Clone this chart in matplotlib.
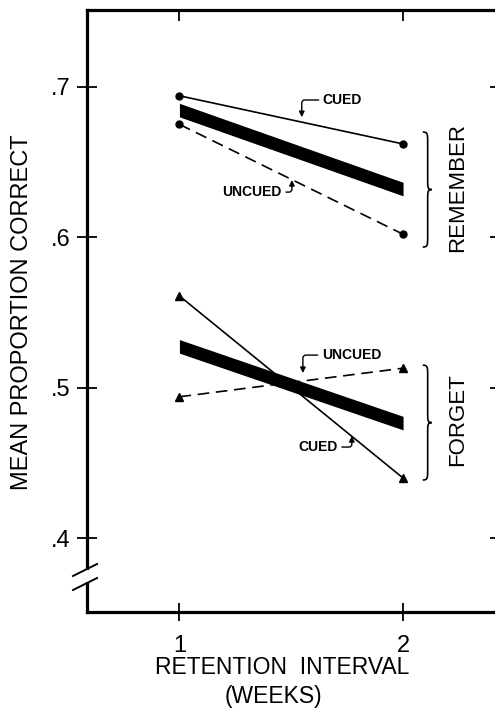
import matplotlib
matplotlib.use("Agg")
import matplotlib.pyplot as plt
import numpy as np
from matplotlib.path import Path
from matplotlib.patches import PathPatch

plt.rcParams['font.family'] = ['Liberation Sans', 'DejaVu Sans']

# ---- data ----
weeks = [1, 2]
remember_cued = [0.694, 0.662]
remember_uncued = [0.675, 0.602]
forget_cued = [0.561, 0.440]
forget_uncued = [0.494, 0.513]
yticks = [0.4, 0.5, 0.6, 0.7]
ytick_labels = ['.4', '.5', '.6', '.7']
xticks = [1, 2]
xtick_labels = ['1', '2']

W, H = 495, 725
fig = plt.figure(figsize=(W / 100, H / 100), dpi=100)
ax = fig.add_axes([87.3 / W, (H - 612.3) / H, (497 - 87.3) / W, (612.3 - 10) / H])
ax.set_xlim(0.588, 2.42)
ax.set_ylim(0.3508, 0.751)

x = np.array(weeks, dtype=float)
rc = np.array(remember_cued); ru = np.array(remember_uncued)
fc = np.array(forget_cued); fu = np.array(forget_uncued)
rm = (rc + ru) / 2
fm = (fc + fu) / 2
half = 0.0045

lw = 1.2
ax.plot(x, rc, '-', color='black', lw=lw, marker='o', ms=5)
ax.plot(x, ru, color='black', lw=lw, marker='o', ms=5, dashes=(7, 4))
ax.fill_between(x, rm - half, rm + half, color='black', lw=0)

ax.plot(x, fc, '-', color='black', lw=lw, marker='^', ms=5.5)
ax.plot(x, fu, color='black', lw=lw, marker='^', ms=5.5, dashes=(7, 4))
ax.fill_between(x, fm - half, fm + half, color='black', lw=0)

# spines / ticks
for s in ['left', 'bottom', 'top']:
    ax.spines[s].set_linewidth(2.3)
ax.spines['right'].set_visible(False)
ax.set_xticks(xticks)
ax.set_xticklabels(xtick_labels, fontsize=17)
ax.set_yticks(yticks)
ax.set_yticklabels(ytick_labels, fontsize=17)
ax.tick_params(axis='x', direction='inout', length=13, width=1.3, pad=10)
ax.tick_params(axis='y', direction='inout', length=14, width=1.3, pad=5)

top = ax.secondary_xaxis('top')
top.set_xticks(xticks)
top.set_xticklabels([])
top.tick_params(direction='in', length=8, width=1.3)
top.spines['top'].set_visible(False)

right = ax.secondary_yaxis('right')
right.set_yticks(yticks)
right.set_yticklabels([])
right.tick_params(direction='in', length=5, width=1.3)
right.spines['right'].set_visible(False)

# axis break mark on left spine: gap in spine plus two slashes
ax.plot([0, 0], [0.050, 0.071], color='white', lw=4, transform=ax.transAxes,
        clip_on=False, solid_capstyle='butt', zorder=5)
for y0 in (0.037, 0.0603):
    ax.plot([-0.0349, 0.0237], [y0, y0 + 0.0199], color='black', lw=1.4,
            transform=ax.transAxes, clip_on=False, zorder=6)

# annotations
def label(text, xytext, xy, ha, relx):
    ax.annotate(text, xy=xy, xytext=xytext, ha=ha, va='center', fontsize=10,
                fontweight='bold',
                arrowprops=dict(arrowstyle='-|>', color='black', lw=1.0,
                                mutation_scale=8, shrinkA=1, shrinkB=0,
                                relpos=(relx, 0.5),
                                connectionstyle='angle,angleA=0,angleB=90,rad=3'))

label('CUED', (1.641, 0.6912), (1.547, 0.6798), 'left', 0.0)
label('UNCUED', (1.458, 0.630), (1.503, 0.638), 'right', 1.0)
label('UNCUED', (1.637, 0.5217), (1.552, 0.5098), 'left', 0.0)
label('CUED', (1.708, 0.4606), (1.771, 0.4679), 'right', 1.0)

# braces
def brace(x0, w, y1, y2):
    h = y2 - y1
    ym = (y1 + y2) / 2
    q = 0.09 * h
    xm = x0 + w * 0.55
    verts = [(x0, y2), (xm, y2), (xm, y2 - q * 0.2), (xm, y2 - q),
             (xm, ym + q),
             (xm, ym + q * 0.2), (xm, ym), (x0 + w, ym),
             (xm, ym), (xm, ym - q * 0.2), (xm, ym - q),
             (xm, y1 + q),
             (xm, y1 + q * 0.2), (xm, y1), (x0, y1)]
    codes = [Path.MOVETO, Path.CURVE4, Path.CURVE4, Path.CURVE4,
             Path.LINETO,
             Path.CURVE4, Path.CURVE4, Path.CURVE4,
             Path.CURVE4, Path.CURVE4, Path.CURVE4,
             Path.LINETO,
             Path.CURVE4, Path.CURVE4, Path.CURVE4]
    ax.add_patch(PathPatch(Path(verts, codes), fill=False, lw=1.2, color='black',
                           clip_on=False))

brace(2.088, 0.04, 0.5935, 0.6699)
brace(2.088, 0.04, 0.4387, 0.515)

ax.text(2.245, 0.6333, 'REMEMBER', rotation=90, ha='center', va='center', fontsize=16)
ax.text(2.245, 0.479, 'FORGET', rotation=90, ha='center', va='center', fontsize=16)

fig.text(22 / W, (H - 312) / H, 'MEAN PROPORTION CORRECT', rotation=90,
         ha='center', va='center', fontsize=17)
fig.text(282 / W, (H - 668) / H, 'RETENTION  INTERVAL', ha='center', va='center', fontsize=16.5)
fig.text(273 / W, (H - 697) / H, '(WEEKS)', ha='center', va='center', fontsize=16.5)

fig.savefig('out.png', dpi=100)
